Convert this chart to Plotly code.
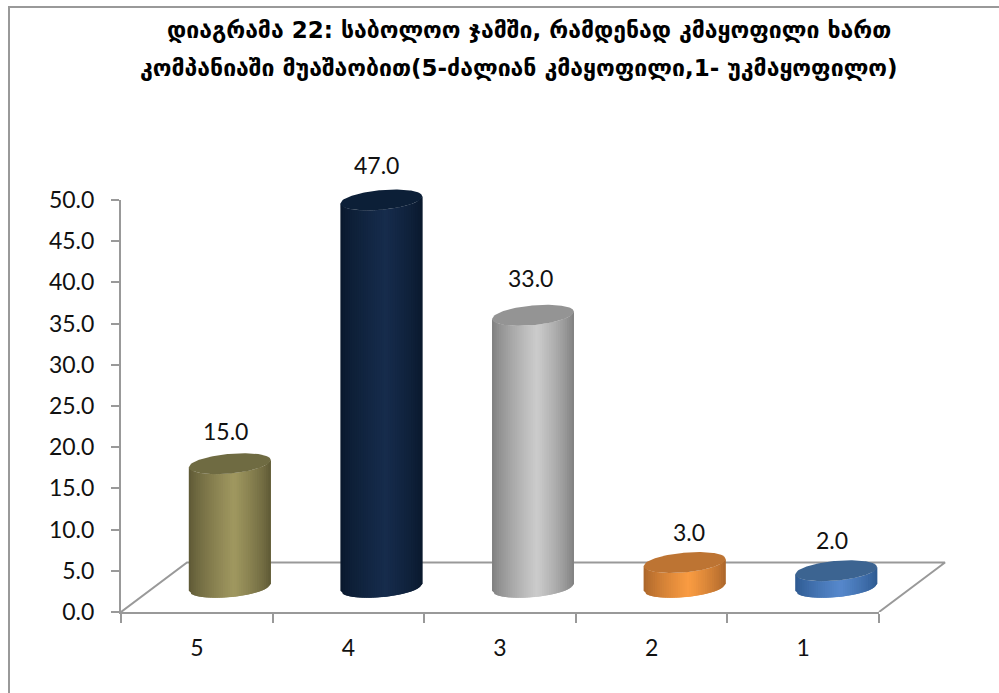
import plotly.graph_objects as go

categories = ["5", "4", "3", "2", "1"]
values = [15.0, 47.0, 33.0, 3.0, 2.0]
y_ticks = [0, 5, 10, 15, 20, 25, 30, 35, 40, 45, 50]
title_lines = [
    "დიაგრამა 22: საბოლოო ჯამში, რამდენად კმაყოფილი ხართ",
    "კომპანიაში მუაშაობით(5-ძალიან კმაყოფილი,1- უკმაყოფილო)",
]
# (edge colour, centre colour, top-cap colour)
edge_colors = [(92, 87, 52), (9, 24, 44), (125, 125, 125), (168, 100, 42), (44, 88, 142)]
mid_colors = [(160, 152, 96), (22, 44, 76), (204, 204, 204), (250, 156, 66), (86, 136, 204)]
cap_colors = ["#6f6b42", "#0c1f37", "#949494", "#bd7433", "#3c6491"]

W, H = 999, 693
L, R, T, B = 121, 879, 200, 612
OUT_R, OUT_T = 960, 140  # wider drawing area so the 3D marks are not clipped
px_x = (R - L) / len(categories)
px_y = (B - T) / 50
FLOOR_DX, FLOOR_DY = 66, 49.5
HALF_W, CAP_DY, CAP_DX = 41, 10.5, 14
GREY = "#999999"
TEXT = "#111111"
STRIPS = 36

a = (HALF_W ** 2 - CAP_DX ** 2) ** 0.5


def edge_s(u, lower):
    """Ellipse parameter at pixel offset u from the centre."""
    A = CAP_DX ** 2 / a ** 2 + 1
    Bq = -2 * u * CAP_DX / a ** 2
    Cq = u ** 2 / a ** 2 - 1
    disc = max(Bq ** 2 - 4 * A * Cq, 0) ** 0.5
    return ((-Bq - disc) if lower else (-Bq + disc)) / (2 * A)


def mix(c1, c2, t):
    return "rgb(%d,%d,%d)" % tuple(round(p + (q - p) * t) for p, q in zip(c1, c2))


fig = go.Figure()
n = len(categories)

# carrier for the visible axes
fig.add_trace(go.Scatter(x=[None], y=[None], xaxis="x", yaxis="y", mode="lines",
                         hoverinfo="skip", showlegend=False))

# floor of the 3D plot
dx = FLOOR_DX / px_x
dy = FLOOR_DY / px_y
fig.add_trace(go.Scatter(x=[0, dx, n + dx, n], y=[0, dy, dy, 0], mode="lines",
                         xaxis="x2", yaxis="y2",
                         line=dict(color=GREY, width=2), cliponaxis=False,
                         hoverinfo="skip", showlegend=False))

# cylinders, built from vertical gradient strips plus a cap
base_y = dy / 2
for i, v in enumerate(values):
    cx = i + 0.5 + dx / 2
    top_y = base_y + v
    for k in range(STRIPS):
        u0 = -HALF_W + 2 * HALF_W * k / STRIPS
        u1 = min(u0 + 2 * HALF_W * 2 / STRIPS, HALF_W)
        um = (u0 + HALF_W / STRIPS - (-HALF_W)) / (2 * HALF_W)
        t = 1 - abs(um - 0.55) / 0.55 if um < 0.55 else 1 - (um - 0.55) / 0.45
        t = t ** 0.75
        xs, ys = [], []
        for u in (u0, u1):
            xs.append(cx + u / px_x)
            ys.append(base_y + edge_s(u, True) * CAP_DY / px_y)
        for u in (u1, u0):
            xs.append(cx + u / px_x)
            ys.append(top_y + edge_s(u, True) * CAP_DY / px_y)
        fig.add_trace(go.Scatter(x=xs, y=ys, mode="lines", fill="toself",
                                 xaxis="x2", yaxis="y2",
                                 fillcolor=mix(edge_colors[i], mid_colors[i], t),
                                 line=dict(width=0), cliponaxis=False,
                                 hoverinfo="skip", showlegend=False))
    cap_x, cap_y = [], []
    for k in range(73):
        us = -HALF_W + 2 * HALF_W * k / 72
        cap_x.append(cx + us / px_x)
        cap_y.append(top_y + edge_s(us, False) * CAP_DY / px_y)
    for k in range(72, -1, -1):
        us = -HALF_W + 2 * HALF_W * k / 72
        cap_x.append(cx + us / px_x)
        cap_y.append(top_y + edge_s(us, True) * CAP_DY / px_y)
    fig.add_trace(go.Scatter(x=cap_x, y=cap_y, mode="lines", fill="toself",
                             xaxis="x2", yaxis="y2",
                             fillcolor=cap_colors[i], line=dict(width=0), cliponaxis=False,
                             hoverinfo="skip", showlegend=False))

annotations = []
label_xshift = [-4, -5, -3, 4, -4]
label_yshift = [33, 35, 37, 31, 31]
for i, v in enumerate(values):
    annotations.append(dict(xref="x2", yref="y2", x=i + 0.5 + dx / 2, y=base_y + v,
                            text="%.1f" % v, showarrow=False,
                            xshift=label_xshift[i], yshift=label_yshift[i],
                            font=dict(family="Lato", size=23, color=TEXT)))
for line, xpix, ypix in zip(title_lines, (529, 519), (30, 68)):
    annotations.append(dict(xref="paper", yref="paper", x=(xpix - L) / (OUT_R - L),
                            y=(B - ypix) / (B - OUT_T), yanchor="middle",
                            text="<b>%s</b>" % line, showarrow=False,
                            font=dict(family="DejaVu Sans", size=23, color="#000000")))

fig.update_layout(
    width=W, height=H, autosize=False,
    margin=dict(l=L, r=W - OUT_R, t=OUT_T, b=H - B, pad=0),
    paper_bgcolor="white", plot_bgcolor="rgba(0,0,0,0)",
    showlegend=False,
    annotations=annotations,
    shapes=[dict(type="rect", xref="paper", yref="paper", layer="below",
                 x0=(9 - L) / (OUT_R - L), x1=(W + 20 - L) / (OUT_R - L),
                 y0=(B - H - 20) / (B - OUT_T), y1=(B - 7) / (B - OUT_T),
                 line=dict(color=GREY, width=2))],
    xaxis=dict(domain=[0, (R - L) / (OUT_R - L)], range=[0, n], anchor="y",
               tickmode="array", tickvals=[i + 0.5 for i in range(n)],
               ticktext=categories, ticks="", showgrid=False, zeroline=False, showline=True,
               linecolor=GREY, linewidth=2, ticklabelstandoff=14,
               tickfont=dict(family="Lato", size=23, color=TEXT),
               minor=dict(tickmode="array", tickvals=list(range(n + 1)), ticks="outside",
                          ticklen=9, tickwidth=2, tickcolor=GREY, showgrid=False)),
    yaxis=dict(domain=[0, (B - T) / (B - OUT_T)], range=[0, 50], anchor="x",
               tickmode="array", tickvals=y_ticks,
               ticktext=["%.1f" % t for t in y_ticks], ticks="outside", ticklen=8, tickwidth=2,
               tickcolor=GREY, showgrid=False, zeroline=False, showline=True,
               linecolor=GREY, linewidth=2, ticklabelstandoff=12,
               tickfont=dict(family="Lato", size=23, color=TEXT)),
    xaxis2=dict(domain=[0, 1], range=[0, (OUT_R - L) / px_x], anchor="y2", visible=False),
    yaxis2=dict(domain=[0, 1], range=[0, (B - OUT_T) / px_y], anchor="x2", visible=False),
)

fig.write_html("out.html", config={"displayModeBar": False},
               post_script="document.body.style.margin='0';document.body.style.overflow='hidden';")
